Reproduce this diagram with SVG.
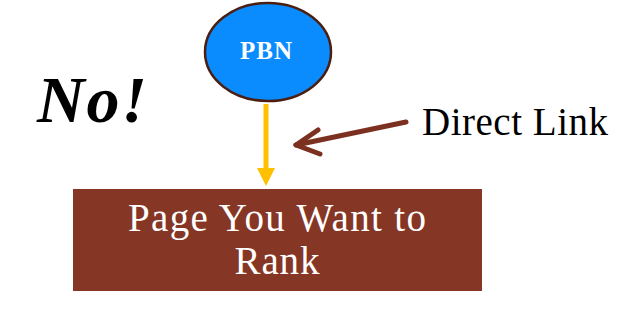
<svg xmlns="http://www.w3.org/2000/svg" width="630" height="309" viewBox="0 0 630 309">
<style>
.serif{font-family:"Liberation Serif","DejaVu Serif",serif}
.lbl{fill:#ffffff;font-size:39px;text-anchor:middle}
.brown{stroke:#7b3020;stroke-width:5;stroke-linecap:round;stroke-linejoin:round;fill:none}
</style>
<rect width="630" height="309" fill="#ffffff"/>
<g id="connectors">
<line x1="266" y1="104" x2="266" y2="170" stroke="#ffc000" stroke-width="5"/>
<polygon points="257,168 275,168 266,186" fill="#ffc000"/>
<line x1="406" y1="122" x2="296" y2="145" class="brown"/>
<polyline points="318,130 296,145 320,154" class="brown"/>
</g>
<g id="pbn">
<ellipse cx="268" cy="52" rx="63" ry="49" fill="#0a8cff" stroke="#4a1f12" stroke-width="2.5"/>
<text x="266" y="59" class="serif" font-size="25" font-weight="bold" fill="#ffffff" text-anchor="middle" textLength="52">PBN</text>
</g>
<g id="page">
<rect x="73" y="189" width="409" height="102" fill="#853625"/>
<text x="277" y="231" class="serif lbl" textLength="298">Page You Want to</text>
<text x="277" y="274" class="serif lbl" textLength="85">Rank</text>
</g>
<g id="no">
<text x="37" y="122" class="serif" font-size="66" font-weight="bold" font-style="italic" fill="#000000" textLength="110">No!</text>
</g>
<g id="direct">
<text x="422" y="135" class="serif" font-size="39" fill="#000000" textLength="186">Direct Link</text>
</g>
</svg>
